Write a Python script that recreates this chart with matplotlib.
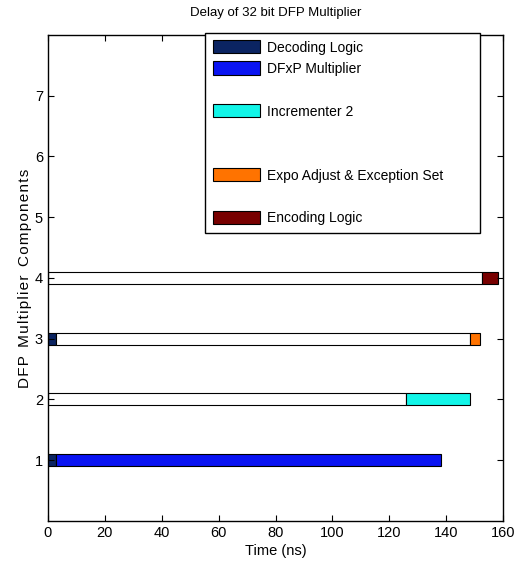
import matplotlib
matplotlib.use("Agg")
import numpy as np
from matplotlib import pyplot as plt
from matplotlib.patches import Patch

rows = [1, 2, 3, 4]

# stacked segment widths (ns) per row, in drawing order
series_names = [
    "Decoding Logic",
    "DFxP Multiplier",
    "",
    "Incrementer 2",
    "",
    "",
    "Expo Adjust & Exception Set",
    "",
    "Encoding Logic",
]
series_widths = [
    [2.8, 0, 2.8, 0],
    [135.5, 0, 0, 0],
    [0, 125.7, 0, 0],
    [0, 22.8, 0, 0],
    [0, 0, 0, 0],
    [0, 0, 145.7, 0],
    [0, 0, 3.4, 0],
    [0, 0, 0, 152.5],
    [0, 0, 0, 5.7],
]
series_colors = [
    "#0b2462",
    "#0a14f2",
    "white",
    "#12f5e8",
    "white",
    "white",
    "#ff7300",
    "white",
    "#780000",
]

x_ticks = [0, 20, 40, 60, 80, 100, 120, 140, 160]
y_ticks = [1, 2, 3, 4, 5, 6, 7]
y_label = "DFP Multiplier Components"

plt.rcParams["font.family"] = ["Liberation Sans", "DejaVu Sans"]

fig = plt.figure(figsize=(5.15, 5.73), dpi=100)
ax = fig.add_axes([0.093, 0.091, 0.884, 0.848])

left = np.zeros(len(rows))
handles = []
for name, widths, color in zip(series_names, series_widths, series_colors):
    widths = np.array(widths, dtype=float)
    mask = widths > 0
    ax.barh(
        np.array(rows)[mask],
        widths[mask],
        left=left[mask],
        height=0.2,
        color=color,
        edgecolor="black",
        linewidth=0.8,
    )
    left += widths
    if name:
        handles.append(Patch(facecolor=color, edgecolor="black", linewidth=0.8, label=name))
    else:
        handles.append(Patch(facecolor="none", edgecolor="none", label=" "))

ax.set_xlim(0, 160)
ax.set_ylim(0, 8)
ax.set_xticks(x_ticks)
ax.set_yticks(y_ticks)
ax.tick_params(direction="in", top=True, right=True, labelsize=10.5, length=4)
for s in ax.spines.values():
    s.set_linewidth(1.0)

# slightly spaced out letters, like the original
spaced = "\u200a".join(y_label).replace("\u200a \u200a", "  ")
ax.set_xlabel("Time (ns)", fontsize=10.5, labelpad=3)
ax.set_ylabel(spaced, fontsize=11, labelpad=2)
ax.set_title("Delay of 32 bit DFP Multiplier", fontsize=9.5, pad=14)

leg = ax.legend(
    handles=handles,
    loc="upper left",
    bbox_to_anchor=(0.345, 0.0, 0.604, 1.005),
    mode="expand",
    borderaxespad=0,
    fontsize=10,
    frameon=True,
    framealpha=1,
    fancybox=False,
    edgecolor="black",
    handlelength=3.4,
    handleheight=1.1,
    labelspacing=0.5,
    borderpad=0.55,
    handletextpad=0.5,
)
leg.get_frame().set_linewidth(1.0)

fig.savefig("out.png", dpi=100)
